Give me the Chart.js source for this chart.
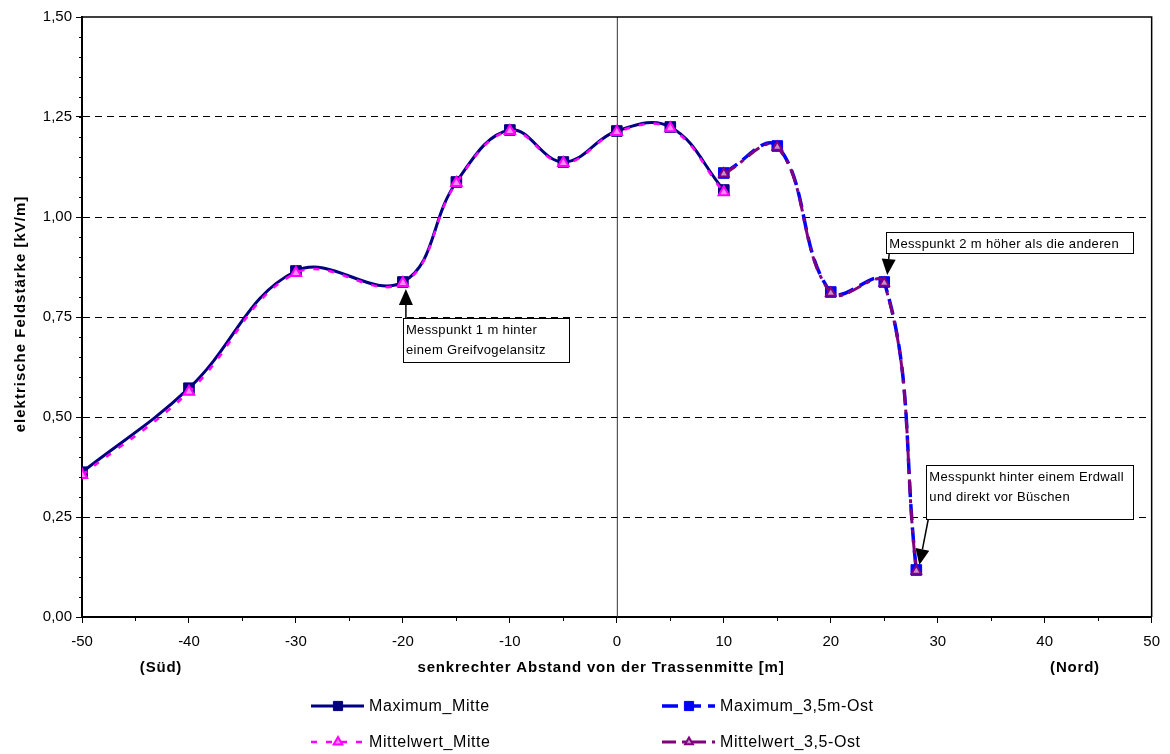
<!DOCTYPE html>
<html><head><meta charset="utf-8">
<script src="https://cdn.jsdelivr.net/npm/chart.js@4.4.0/dist/chart.umd.min.js"></script>
<style>html,body{margin:0;padding:0;background:#fff}</style>
</head><body>
<canvas id="c" width="1170" height="754"></canvas>
<script>
// ---- data ----
const xMitte = [-50, -40, -30, -20, -15, -10, -5, 0, 5, 10];
const maximumMitte = [0.362, 0.572, 0.865, 0.8375, 1.0875, 1.2175, 1.1375, 1.215, 1.225, 1.0675];
const mittelwertMitte = [0.355, 0.563, 0.860, 0.835, 1.085, 1.215, 1.135, 1.2125, 1.222, 1.062];
const xOst = [10, 15, 20, 25, 28];
const maximumOst = [1.110, 1.1775, 0.8125, 0.8375, 0.1175];
const mittelwertOst = [1.108, 1.175, 0.810, 0.835, 0.115];
const seriesNames = ['Maximum_Mitte', 'Maximum_3,5m-Ost', 'Mittelwert_Mitte', 'Mittelwert_3,5-Ost'];
const yTitle = 'elektrische Feldstärke [kV/m]';
const xTitle = 'senkrechter Abstand von der Trassenmitte [m]';
const xSideLabels = ['(Süd)', '(Nord)'];
const notes = [
  {x: -20, y: 0.835, lines: ['Messpunkt 1 m hinter', 'einem Greifvogelansitz']},
  {x: 25, y: 0.835, lines: ['Messpunkt 2 m höher als die anderen']},
  {x: 28, y: 0.115, lines: ['Messpunkt hinter einem Erdwall', 'und direkt vor Büschen']}
];

const pts = (xs, ys) => xs.map((x, i) => ({x: x, y: ys[i]}));
const FONT = '"Liberation Sans", Arial, sans-serif';

const styles = [
  {color: '#000080', dash: [], width: 3, style: 'rect', r: 7.5, fill: '#000080', bw: 1, order: 3},
  {color: '#0000ff', dash: [16, 7], width: 3.5, style: 'rect', r: 7.5, fill: '#0000ff', bw: 1, order: 2},
  {color: '#ff00ff', dash: [6, 9], width: 2.5, style: 'triangle', r: 6, fill: '#ff88ff', bw: 2, order: 1},
  {color: '#800080', dash: [14, 6, 4, 6], width: 3, style: 'triangle', r: 5.5, fill: '#c890c8', bw: 2, order: 0}
];
const dataSets = [pts(xMitte, maximumMitte), pts(xOst, maximumOst), pts(xMitte, mittelwertMitte), pts(xOst, mittelwertOst)];

const datasets = dataSets.map((d, i) => ({
  label: seriesNames[i], data: d,
  borderColor: styles[i].color, borderWidth: styles[i].width, borderDash: styles[i].dash,
  pointStyle: styles[i].style, pointRadius: styles[i].r, pointBackgroundColor: styles[i].fill,
  pointBorderColor: styles[i].color, pointBorderWidth: styles[i].bw,
  tension: 0.4, fill: false, order: styles[i].order
}));

function arrow(ctx, x1, y1, x2, y2) {
  const ang = Math.atan2(y2 - y1, x2 - x1), L = 16, W = 7;
  const bx = x2 - L * Math.cos(ang), by = y2 - L * Math.sin(ang);
  ctx.beginPath(); ctx.moveTo(x1, y1); ctx.lineTo(bx, by);
  ctx.strokeStyle = '#000'; ctx.lineWidth = 1.5; ctx.stroke();
  ctx.beginPath(); ctx.moveTo(x2, y2);
  ctx.lineTo(bx + W * Math.sin(ang), by - W * Math.cos(ang));
  ctx.lineTo(bx - W * Math.sin(ang), by + W * Math.cos(ang));
  ctx.closePath(); ctx.fillStyle = '#000'; ctx.fill();
}

const decor = {
  id: 'decor',
  beforeDatasetsDraw(chart) {
    const {ctx, chartArea: a, scales: {x}} = chart;
    ctx.save();
    const x0 = x.getPixelForValue(0);
    ctx.strokeStyle = '#333'; ctx.lineWidth = 1;
    ctx.beginPath(); ctx.moveTo(x0 + 0.5, a.top); ctx.lineTo(x0 + 0.5, a.bottom); ctx.stroke();
    ctx.restore();
  },
  afterDraw(chart) {
    const {ctx, chartArea: a, scales: {x, y}} = chart;
    ctx.save();
    ctx.letterSpacing = '0px';
    // frame top/right
    ctx.strokeStyle = '#000'; ctx.lineWidth = 1.5;
    ctx.beginPath(); ctx.moveTo(a.left, a.top); ctx.lineTo(a.right, a.top); ctx.lineTo(a.right, a.bottom); ctx.stroke();
    // minor ticks
    ctx.lineWidth = 1;
    for (let v = 0.05; v < 1.5; v += 0.05) {
      const py = Math.round(y.getPixelForValue(v)) + 0.5;
      ctx.beginPath(); ctx.moveTo(a.left - 3, py); ctx.lineTo(a.left, py); ctx.stroke();
    }
    for (let v = -45; v < 50; v += 10) {
      const px = Math.round(x.getPixelForValue(v)) + 0.5;
      ctx.beginPath(); ctx.moveTo(px, a.bottom); ctx.lineTo(px, a.bottom + 4); ctx.stroke();
    }
    // axis titles
    ctx.fillStyle = '#000';
    ctx.font = 'bold 15px ' + FONT;
    ctx.letterSpacing = '0.8px';
    ctx.textAlign = 'center'; ctx.textBaseline = 'middle';
    ctx.fillText(xTitle, 601, 668);
    ctx.fillText(xSideLabels[0], 161, 668);
    ctx.fillText(xSideLabels[1], 1075, 668);
    ctx.save();
    ctx.translate(21, 314); ctx.rotate(-Math.PI / 2);
    ctx.letterSpacing = '1px';
    ctx.fillText(yTitle, 0, 0);
    ctx.restore();
    // annotations
    ctx.font = '13px ' + FONT; ctx.letterSpacing = '0.35px';
    ctx.textAlign = 'left'; ctx.textBaseline = 'middle';
    const boxes = [
      {dx: 0, dy: 35, w: 166, h: 44, ax: 3, tipDy: 6},
      {dx: 2, dy: -51, w: 247, h: 21, ax: 3, tipDy: -8},
      {dx: 10, dy: -106, w: 207, h: 54, ax: 2, tipDy: -6}
    ];
    notes.forEach((n, i) => {
      const b = boxes[i];
      const px = x.getPixelForValue(n.x), py = y.getPixelForValue(n.y);
      const bx = px + b.dx, by = py + b.dy;
      ctx.fillStyle = '#fff'; ctx.fillRect(bx, by, b.w, b.h);
      ctx.strokeStyle = '#000'; ctx.lineWidth = 1;
      ctx.strokeRect(Math.round(bx) + 0.5, Math.round(by) + 0.5, b.w, b.h);
      ctx.fillStyle = '#000';
      n.lines.forEach((t, k) => ctx.fillText(t, bx + 3, by + 12 + k * 20));
      if (i === 0) arrow(ctx, bx + b.ax, by, px + 3, py + b.tipDy);
      else arrow(ctx, bx + b.ax, by + b.h, px + 3, py + b.tipDy);
    });
    // legend
    const pos = [[311, 706], [662, 706], [311, 742], [662, 742]];
    ctx.font = '16px ' + FONT; ctx.letterSpacing = '0.6px';
    styles.forEach((s, i) => {
      const [lx, ly] = pos[i];
      ctx.save();
      ctx.strokeStyle = s.color; ctx.lineWidth = s.width; ctx.setLineDash(s.dash);
      ctx.beginPath(); ctx.moveTo(lx, ly); ctx.lineTo(lx + 53, ly); ctx.stroke();
      ctx.setLineDash([]);
      ctx.fillStyle = s.fill; ctx.strokeStyle = s.color; ctx.lineWidth = s.bw;
      Chart.helpers.drawPoint(ctx, {pointStyle: s.style, radius: s.r - 1, rotation: 0, borderWidth: s.bw}, lx + 27, ly);
      ctx.restore();
      ctx.fillStyle = '#000'; ctx.textAlign = 'left'; ctx.textBaseline = 'middle';
      ctx.fillText(seriesNames[i], lx + 58, ly + 1);
    });
    ctx.restore();
  }
};

new Chart(document.getElementById('c'), {
  type: 'line',
  data: {datasets: datasets},
  options: {
    responsive: false, animation: false, devicePixelRatio: 1,
    layout: {padding: {left: 0, top: 17, right: 17, bottom: 0}},
    plugins: {legend: {display: false}, tooltip: {enabled: false}},
    scales: {
      x: {
        type: 'linear', min: -50, max: 50,
        ticks: {stepSize: 10, color: '#000', font: {family: FONT, size: 15}, padding: 10, maxRotation: 0},
        grid: {drawOnChartArea: false, drawTicks: true, tickLength: 6, color: '#000', tickColor: '#000'},
        border: {display: true, color: '#000', width: 2},
        afterFit: s => { s.height = 137; }
      },
      y: {
        min: 0, max: 1.5,
        ticks: {stepSize: 0.25, color: '#000', font: {family: FONT, size: 15}, padding: 4,
          callback: v => v.toFixed(2).replace('.', ',')},
        grid: {color: c => (c.tick && (c.tick.value === 0 || c.tick.value === 1.5)) ? 'rgba(0,0,0,0)' : '#000',
          lineWidth: 1, tickLength: 6, tickColor: '#000'},
        border: {display: true, color: '#000', width: 2, dash: [7, 5]},
        afterFit: s => { s.width = 82; }
      }
    }
  },
  plugins: [decor]
});
</script>
</body></html>
